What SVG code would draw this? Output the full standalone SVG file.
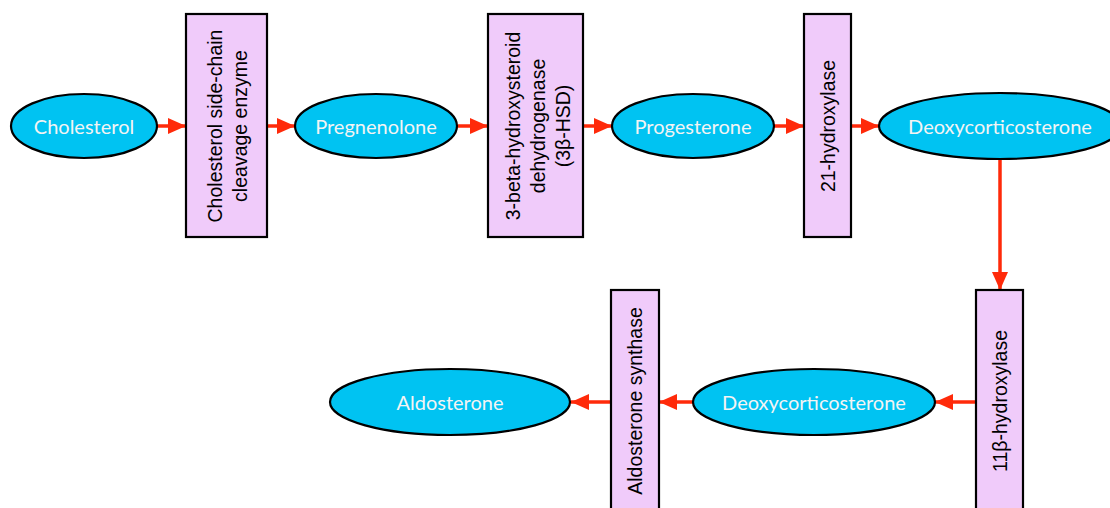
<svg xmlns="http://www.w3.org/2000/svg" width="1110" height="508" viewBox="0 0 1110 508">
<style>
.ell{fill:#00c3f2;stroke:#000;stroke-width:2.2}
.box{fill:#f0cbfa;stroke:#000;stroke-width:2.2}
.et{font-family:Lato,"Open Sans",sans-serif;font-size:20px;fill:#f4f4f4;text-anchor:middle;dominant-baseline:central}
.bt{font-family:"Liberation Sans",Arial,sans-serif;font-size:19.5px;fill:#000;text-anchor:middle;dominant-baseline:central}
.c{stroke:#ff2a0a;stroke-width:3.5;fill:none}
</style>
<defs>
<marker id="ah" markerUnits="userSpaceOnUse" markerWidth="20" markerHeight="16" refX="18" refY="8" orient="auto">
<path d="M0,0 L18,8 L0,16 Z" fill="#ff2a0a"/>
</marker>
</defs>
<rect width="1110" height="508" fill="#fff"/>
<g id="connectors">
<line class="c" x1="157" y1="126" x2="186" y2="126" marker-end="url(#ah)"/>
<line class="c" x1="267" y1="126" x2="295" y2="126" marker-end="url(#ah)"/>
<line class="c" x1="458" y1="126" x2="488" y2="126" marker-end="url(#ah)"/>
<line class="c" x1="583" y1="126" x2="612" y2="126" marker-end="url(#ah)"/>
<line class="c" x1="774" y1="126" x2="804" y2="126" marker-end="url(#ah)"/>
<line class="c" x1="851" y1="126" x2="879" y2="126" marker-end="url(#ah)"/>
<line class="c" x1="1000" y1="159" x2="1000" y2="290" marker-end="url(#ah)"/>
<line class="c" x1="976" y1="402" x2="935" y2="402" marker-end="url(#ah)"/>
<line class="c" x1="693" y1="402" x2="659" y2="402" marker-end="url(#ah)"/>
<line class="c" x1="611" y1="402" x2="571" y2="402" marker-end="url(#ah)"/>
</g>
<g id="cholesterol"><ellipse class="ell" cx="84" cy="126" rx="73" ry="32"/><text class="et" x="84" y="126">Cholesterol</text></g>
<g id="scc"><rect class="box" x="186" y="14" width="81" height="223"/><text class="bt" transform="translate(227,126) rotate(-90)"><tspan x="0" y="-12.5">Cholesterol side-chain</tspan><tspan x="0" y="12.5">cleavage enzyme</tspan></text></g>
<g id="pregnenolone"><ellipse class="ell" cx="376" cy="126" rx="81" ry="32"/><text class="et" x="376" y="126">Pregnenolone</text></g>
<g id="hsd"><rect class="box" x="488" y="14" width="95" height="223"/><text class="bt" transform="translate(538,126) rotate(-90)"><tspan x="0" y="-25">3-beta-hydroxysteroid</tspan><tspan x="0" y="0">dehydrogenase</tspan><tspan x="0" y="25">(3β-HSD)</tspan></text></g>
<g id="progesterone"><ellipse class="ell" cx="693" cy="126" rx="81" ry="32"/><text class="et" x="693" y="126">Progesterone</text></g>
<g id="h21"><rect class="box" x="804" y="14" width="47" height="223"/><text class="bt" transform="translate(827.5,126) rotate(-90)">21-hydroxylase</text></g>
<g id="doc1"><ellipse class="ell" cx="1000" cy="126" rx="121" ry="33"/><text class="et" x="1000" y="126">Deoxycorticosterone</text></g>
<g id="h11"><rect class="box" x="976" y="290" width="47" height="222"/><text class="bt" transform="translate(999.5,401) rotate(-90)">11β-hydroxylase</text></g>
<g id="doc2"><ellipse class="ell" cx="814" cy="402" rx="121" ry="33"/><text class="et" x="814" y="402">Deoxycorticosterone</text></g>
<g id="as"><rect class="box" x="611" y="290" width="48" height="222"/><text class="bt" transform="translate(635,401) rotate(-90)">Aldosterone synthase</text></g>
<g id="aldosterone"><ellipse class="ell" cx="450" cy="402" rx="120" ry="33"/><text class="et" x="450" y="402">Aldosterone</text></g>
</svg>
